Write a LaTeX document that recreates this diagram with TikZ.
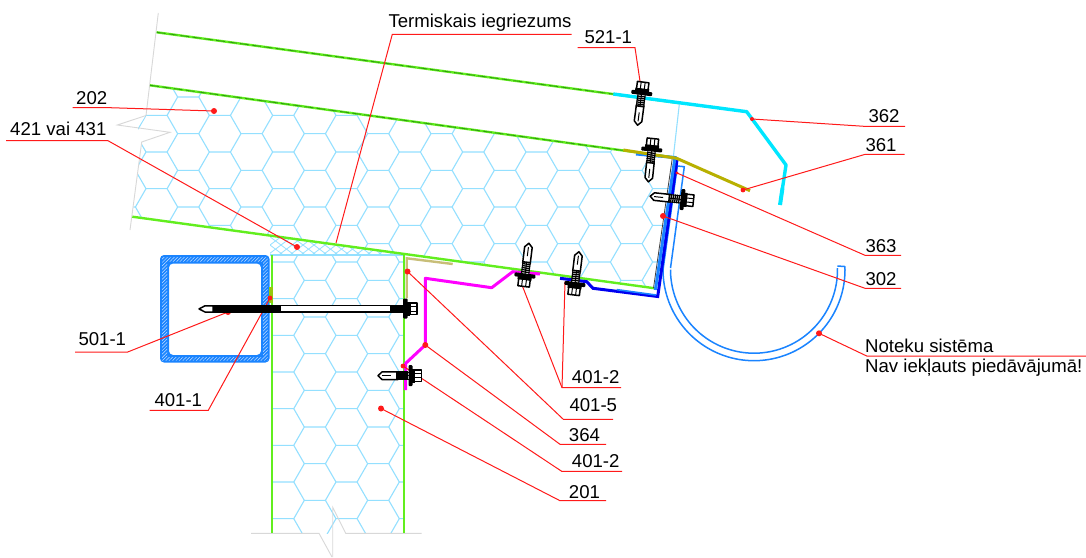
\documentclass[tikz,border=0pt]{standalone}
\usepackage{fontspec}
\setmainfont{Liberation Sans}
\usetikzlibrary{patterns.meta}
\definecolor{hexc}{HTML}{94E0FF}
\definecolor{grn}{HTML}{62EE1E}
\definecolor{dgrn}{HTML}{2E9A10}
\definecolor{brk}{HTML}{D8D8D8}
\definecolor{tube}{HTML}{1A84FF}
\definecolor{dblue}{HTML}{0000F0}
\definecolor{cyanf}{HTML}{00E6FF}
\definecolor{olive}{HTML}{B8B000}
\definecolor{tan}{HTML}{C8BE78}
\definecolor{magf}{HTML}{FF00FF}
\definecolor{redl}{HTML}{FF1A1A}
\tikzset{
  hexline/.style={draw=hexc,line width=1.1pt},
  brkline/.style={draw=brk,line width=0.9pt},
  grnline/.style={draw=grn,line width=2.4pt},
  grncore/.style={draw=dgrn,line width=0.8pt,dash pattern=on 9pt off 3pt},
  leader/.style={draw=redl,line width=1pt,line join=miter},
  lbl/.style={anchor=base west,inner sep=0pt,font=\fontsize{18.6}{22}\selectfont,text=black},
  reddot/.style={fill=redl,draw=none},
  sc/.style={draw=black,line width=1.5pt,line join=round},
}
\newcommand\hexgrid{%
  \foreach \k in {0,...,27}{%
    \foreach \m in {0,...,10}{%
      \pgfmathsetmacro\hy{41.99+18.333*\k}%
      \pgfmathsetmacro\hx{19.33+63.33*\m+(isodd(\k)?31.67:0)}%
      \draw[hexline] (\hx-10.55,\hy+18.333) -- (\hx,\hy) -- (\hx+21.1,\hy) -- (\hx+31.65,\hy+18.333);
    }%
  }%
}
\newcommand\shortscrew[3]{%
  \begin{scope}[shift={(#1,#2)},rotate=#3]
    \draw[sc,fill=white] (-12,-3.8) -- (-28,-3.8) -- (-32,0) -- (-28,3.8) -- (-12,3.8) -- cycle;
    \draw[sc,line width=1pt] (-28,0) -- (-19,0);
    \fill[white] (-12,-3.8) rectangle (-1,3.8);
    \foreach \t in {-13,-11,-9,-7,-5,-3}{\draw[black,line width=1.3pt] (\t,-4.3) -- (\t,4.3);}
    \draw[black,line width=1pt] (-13,-3.6) -- (-1,-3.6) (-13,3.6) -- (-1,3.6) (-13,0) -- (-1,0);
    \draw[sc,fill=white] (4,-5.8) rectangle (11.5,5.8);
    \draw[sc,line width=1pt] (4,-2) -- (11.5,-2) (4,2) -- (11.5,2);
    \fill[black,rounded corners=1pt] (-1.5,-10.5) rectangle (2.5,10.5);
    \fill[black] (2,-7) rectangle (5,7);
  \end{scope}%
}
\begin{document}
\begin{tikzpicture}[x=1pt,y=-1pt]
\useasboundingbox (0,0) rectangle (1086,557);
\fill[white] (0,0) rectangle (1086,557);
% insulation, roof panel
\begin{scope}
  \clip (150,85.3) -- (673.3,157.3) -- (655,288.3) -- (132.3,216.7) -- (141.7,142) -- (138,128) -- (146,115) -- cycle;
  \hexgrid
\end{scope}
% insulation, wall panel
\begin{scope}
  \clip (271.7,255) rectangle (404,533);
  \hexgrid
\end{scope}
% thermal break cross hatch
\begin{scope}
  \clip (270,235.6) -- (404,254) -- (404,255) -- (270,255) -- cycle;
  \foreach \c in {-20,-9,...,160}{
    \draw[hexline,line width=0.8pt] (270+\c,260) -- (270+\c+40,230);
    \draw[hexline,line width=0.8pt] (270+\c,230) -- (270+\c+40,260);
  }
\end{scope}
\draw[hexline] (270,255) -- (403,255);
% break lines
\draw[brkline] (158.3,13) -- (146,115.5) -- (117.3,125) -- (170,132.3) -- (141.7,142) -- (130,230);
\draw[brkline] (251,533.3) -- (319,533.3) -- (332,557);
\draw[brkline] (332.7,557) -- (332.7,507.3) -- (345.7,533.3) -- (421.7,533.3);
% panel skins
\draw[grnline] (156.7,32.3) -- (679,103);
\draw[grncore] (156.7,32.3) -- (679,103);
\draw[grnline] (150,85.3) -- (673.3,157.4);
\draw[grncore] (150,85.3) -- (640,152.8);
\draw[grnline] (132.3,216.7) -- (655,288.3);
\draw[grnline] (271.7,255) -- (271.7,533);
\draw[grnline] (404,253) -- (404,533);
\draw[hexline] (679.3,104.3) -- (673.3,157.3);
% steel tube
\fill[tube,even odd rule,rounded corners=4pt] (160,255) rectangle (269.5,362.5) (169,263.5) rectangle (261,355);
\fill[pattern={Lines[angle=45,distance=2.4pt,line width=0.5pt]},pattern color=white!75!tube,even odd rule] (162,257) rectangle (267.5,360.5) (167,261.5) rectangle (263,357);
\fill[olive!60!grn] (269,287) rectangle (272.5,303);
% gutter
\draw[tube,line width=1.5pt,line join=round]
  plot[domain=180:-2,samples=80] ({754+91*cos(\x)},{269.7+91*sin(\x)}) -- (837.3,266)
  plot[domain=-1:180,samples=80] ({754+83.5*cos(\x)},{269.7+83.5*sin(\x)});
\draw[tube,line width=1.5pt,line join=round] (663,270) -- (677.3,166) -- (684.3,166.7) -- (670.5,268);
% eaves flashings
\draw[tan,line width=2.4pt] (452.7,264) -- (406.7,258.3) -- (406.7,298.3);
\draw[magf,line width=3pt,line join=round] (405.7,390) -- (405.7,363.3) -- (425.3,345) -- (425.3,278.3) -- (491.7,287.7) -- (512.7,271.7) -- (540,274);
\draw[black!75,line width=0.8pt] (672.3,158) -- (653.5,288);
\draw[dblue,line width=3pt,line join=miter] (677,160) -- (657.7,296.5) -- (593,288.3) -- (586.7,281.7) -- (560,278.3);
\draw[tube,line width=3pt] (636,154) -- (675,157.5) -- (655.4,290);
\draw[tube,line width=1.6pt] (616.7,289.6) -- (656,295);
\draw[olive,line width=3pt] (623.3,150) -- (676.7,158.3) -- (750,190.7);
\draw[cyanf,line width=3.4pt,line join=round] (613.3,94) -- (746.7,111.7) -- (786,165) -- (782.5,188);
\draw[cyanf,line width=4pt] (782.5,188) -- (780,205);
% labels
\node[lbl] (t1) at (388.3,27.7) {Termiskais iegriezums};
\node[lbl] (t2) at (584.3,43.3) {521-1};
\node[lbl] (t3) at (76,104) {202};
\node[lbl] (t4) at (10,135.7) {421 vai 431};
\node[lbl] (t5) at (868.3,122.7) {362};
\node[lbl] (t6) at (865.3,151) {361};
\node[lbl] (t7) at (865.3,252) {363};
\node[lbl] (t8) at (865.3,285) {302};
\node[lbl] (t9) at (865,352.5) {Noteku sistēma};
\node[lbl] (t10) at (865,372.5) {Nav iekļauts piedāvājumā!};
\node[lbl] (t11) at (78.3,345) {501-1};
\node[lbl] (t12) at (154.3,406.7) {401-1};
\node[lbl] (t13) at (571.7,383.3) {401-2};
\node[lbl] (t14) at (569.3,411.7) {401-5};
\node[lbl] (t15) at (568.7,441) {364};
\node[lbl] (t16) at (571.7,467.3) {401-2};
\node[lbl] (t17) at (568.7,498.3) {201};
% leader targets
\coordinate (d1) at (336,243);
\coordinate (d2) at (641,88);
\coordinate (d3) at (214,111);
\coordinate (d4) at (297,247);
\coordinate (d5) at (752,119);
\coordinate (d6) at (743,190);
\coordinate (d7) at (677,173);
\coordinate (d8) at (663,216);
\coordinate (d9) at (819,333.3);
\coordinate (d11) at (228,312);
\coordinate (d12) at (270,298);
\coordinate (d13a) at (522,285);
\coordinate (d13b) at (565,281.7);
\coordinate (d14) at (407.5,271.5);
\coordinate (d15) at (425.3,345);
\coordinate (d16) at (403,366);
\coordinate (d17) at (381,408.5);
\draw[leader] (d1) -- (392.3,34.3) -- (571.7,34.3);
\draw[leader] (d2) -- (635,47.7) -- (577.7,47.7);
\draw[leader] (d3) -- (110,107.7) -- (72.7,107.7);
\draw[leader] (d4) -- (108,140.7) -- (6,140.7);
\draw[leader] (d5) -- (864,126.3) -- (905,126.3);
\draw[leader] (d6) -- (865.3,154.3) -- (904.7,154.3);
\draw[leader] (d7) -- (865,255.3) -- (901,255.3);
\draw[leader] (d8) -- (865,288.3) -- (901,288.3);
\draw[leader] (d9) -- (866.7,356) -- (1086,356);
\draw[leader] (d11) -- (127.7,352) -- (75,352);
\draw[leader] (d12) -- (208.3,410.3) -- (149.7,410.3);
\draw[leader] (d13a) -- (562,387.7) -- (621,387.7);
\draw[leader] (d13b) -- (562,387.7);
\draw[leader] (d14) -- (563.3,419.3) -- (613,419.3);
\draw[leader] (d15) -- (560,444.3) -- (606,444.3);
\draw[leader] (d16) -- (561.7,471.3) -- (622,471.3);
\draw[leader] (d17) -- (560,500.7) -- (606,500.7);
\foreach \p/\r in {d3/3,d4/3,d5/2,d6/2.4,d8/3,d9/3,d11/3,d12/2.4,d14/3,d15/3,d16/2.4,d17/3,d7/1.6}{
  \fill[reddot] (\p) circle[radius=\r];
}
% long screw
\fill[black] (213,304.8) rectangle (280,313);
\draw[sc,fill=white] (280,305.4) rectangle (391,312.2);
\fill[black] (391,304.8) rectangle (403,313);
\draw[sc,fill=white] (213,305.8) -- (205,305.8) -- (199,308.9) -- (205,312) -- (213,312) -- cycle;
\fill[black,rounded corners=1pt] (403,298.5) rectangle (407.5,318.5);
\fill[black] (407,302) rectangle (410,315.5);
\draw[sc,fill=white] (410,303) rectangle (417,314.5);
\draw[sc,line width=1pt] (410,306.5) -- (417,306.5) (410,311) -- (417,311);
% short screws
\shortscrew{641.7}{93.5}{82.5}
\shortscrew{651.7}{150}{84}
\shortscrew{682}{199.5}{-6}
\shortscrew{410}{375.7}{0}
\shortscrew{525}{275}{263}
\shortscrew{575}{283.5}{263}
\end{tikzpicture}
\end{document}
